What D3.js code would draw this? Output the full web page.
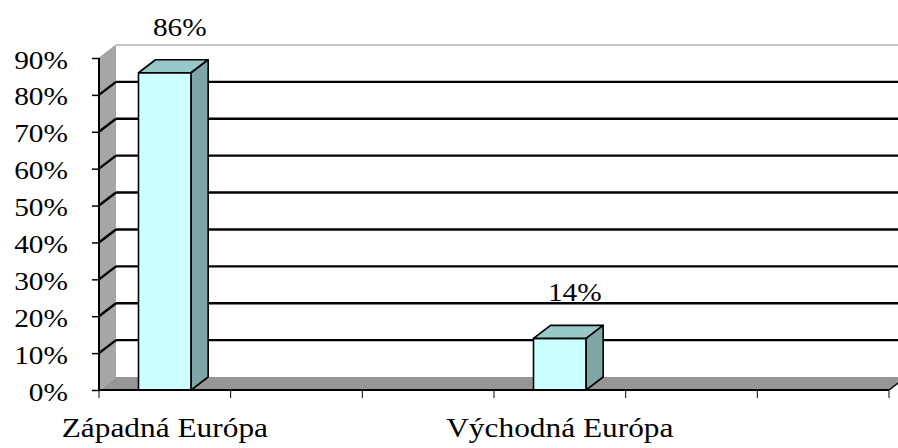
<!DOCTYPE html>
<html>
<head>
<meta charset="utf-8">
<title>Európa</title>
<script src="https://cdn.jsdelivr.net/npm/d3@7"></script>
<style>
  body { margin: 0; background: #fff; }
  text { font-family: "Liberation Serif", "Times New Roman", serif; font-size: 26px; fill: #000; }
  text.cat { font-size: 28px; }
</style>
</head>
<body>
<div id="chart"></div>
<script>
  // data
  const categories = ["Západná Európa", "", "", "Východná Európa", "", ""];
  const values = [0.86, null, null, 0.14, null, null];
  const yTicks = [0, 0.1, 0.2, 0.3, 0.4, 0.5, 0.6, 0.7, 0.8, 0.9];

  const width = 898, height = 448;
  const x0 = 99, x1 = 889, yBottom = 390, yTop = 58;
  const dx = 17, dy = -13;       // 3d depth offset
  const stretch = 1.13;          // text is a bit wide in the original

  const svg = d3.select("#chart").append("svg")
    .attr("width", width)
    .attr("height", height);

  const x = d3.scaleBand()
    .domain(d3.range(categories.length))
    .range([x0, x1])
    .padding(0);

  const y = d3.scaleLinear()
    .domain([0, 0.9])
    .range([yBottom, yTop]);

  const fmt = d3.format(".0%");

  // back wall
  svg.append("rect")
    .attr("x", x0 + dx).attr("y", y(0.9) + dy)
    .attr("width", width - x0 - dx).attr("height", y(0) - y(0.9))
    .attr("fill", "#fff");
  svg.append("line")
    .attr("x1", x0 + dx).attr("x2", width)
    .attr("y1", y(0.9) + dy).attr("y2", y(0.9) + dy)
    .attr("stroke", "#b4b4b4").attr("stroke-width", 1.5);

  // left wall
  svg.append("polygon")
    .attr("points", [[x0, y(0.9)], [x0 + dx, y(0.9) + dy], [x0 + dx, y(0) + dy], [x0, y(0)]].join(" "))
    .attr("fill", "#a6a6a6");
  svg.append("line")
    .attr("x1", x0).attr("y1", y(0.9))
    .attr("x2", x0 + dx).attr("y2", y(0.9) + dy)
    .attr("stroke", "#777").attr("stroke-width", 1)
    .attr("stroke-dasharray", "1,1");

  // floor
  svg.append("polygon")
    .attr("points", [[x0, y(0)], [x0 + dx, y(0) + dy], [x1 + dx, y(0) + dy], [x1, y(0)]].join(" "))
    .attr("fill", "#969696");
  svg.append("line")
    .attr("x1", x1).attr("y1", y(0))
    .attr("x2", x1 + dx).attr("y2", y(0) + dy)
    .attr("stroke", "#000").attr("stroke-width", 1.5);

  // gridlines (back wall + left wall)
  const grid = svg.append("g")
    .attr("stroke", "#000")
    .attr("stroke-width", 2.4);
  yTicks.filter(t => t > 0 && t < 0.9).forEach(t => {
    grid.append("line")
      .attr("x1", x0 + dx).attr("x2", width)
      .attr("y1", y(t) + dy).attr("y2", y(t) + dy);
    grid.append("line")
      .attr("x1", x0).attr("y1", y(t))
      .attr("x2", x0 + dx).attr("y2", y(t) + dy);
  });

  // bars
  const bw = x.bandwidth() * 0.4;
  const bars = svg.append("g")
    .attr("stroke", "#000")
    .attr("stroke-width", 1.6)
    .attr("stroke-linejoin", "round")
    .selectAll("g")
    .data(values.map((v, i) => ({ i, v })).filter(d => d.v != null))
    .join("g");

  bars.append("rect")
    .attr("x", d => x(d.i) + (x.bandwidth() - bw) / 2)
    .attr("y", d => y(d.v))
    .attr("width", bw)
    .attr("height", d => y(0) - y(d.v))
    .attr("fill", "#ccffff");

  bars.append("polygon")
    .attr("points", d => {
      const l = x(d.i) + (x.bandwidth() - bw) / 2, r = l + bw, t = y(d.v);
      return [[l, t], [l + dx, t + dy], [r + dx, t + dy], [r, t]].join(" ");
    })
    .attr("fill", "#99c8c8");

  bars.append("polygon")
    .attr("points", d => {
      const r = x(d.i) + (x.bandwidth() + bw) / 2, t = y(d.v);
      return [[r, t], [r + dx, t + dy], [r + dx, y(0) + dy], [r, y(0)]].join(" ");
    })
    .attr("fill", "#7fa6a6");

  // data labels
  svg.append("g")
    .selectAll("text")
    .data(values.map((v, i) => ({ i, v })).filter(d => d.v != null))
    .join("text")
    .attr("text-anchor", "middle")
    .attr("transform", d => `translate(${x(d.i) + x.bandwidth() / 2 + 15},${y(d.v) + dy - 24}) scale(${stretch},1)`)
    .text(d => fmt(d.v));

  // value axis
  const yAxis = svg.append("g")
    .attr("transform", `translate(${x0},0)`)
    .call(d3.axisLeft(y).tickValues(yTicks).tickFormat(fmt).tickSize(7).tickPadding(0));
  yAxis.select(".domain").remove();
  yAxis.selectAll(".tick line").attr("stroke", "#000").attr("stroke-width", 1.5);
  yAxis.selectAll(".tick text")
    .attr("x", null).attr("dy", null)
    .attr("transform", `translate(-31,10) scale(${stretch},1)`);
  yAxis.attr("font-size", null).attr("font-family", null);
  svg.append("line")
    .attr("x1", x0).attr("x2", x0)
    .attr("y1", y(0.9)).attr("y2", y(0))
    .attr("stroke", "#000").attr("stroke-width", 2);

  // category axis
  const xAxis = svg.append("g")
    .attr("transform", `translate(0,${y(0)})`);
  xAxis.append("line")
    .attr("x1", x0).attr("x2", x1)
    .attr("stroke", "#000").attr("stroke-width", 2);
  xAxis.selectAll(".tk")
    .data(d3.range(categories.length + 1))
    .join("line")
    .attr("class", "tk")
    .attr("x1", i => x0 + i * x.step()).attr("x2", i => x0 + i * x.step())
    .attr("y1", 0).attr("y2", 8)
    .attr("stroke", "#000").attr("stroke-width", 1);
  xAxis.selectAll("text")
    .data(categories)
    .join("text")
    .attr("class", "cat")
    .attr("text-anchor", "middle")
    .attr("transform", (d, i) => `translate(${x(i) + x.bandwidth() / 2},47) scale(1.12,1)`)
    .text(d => d);
</script>
</body>
</html>
